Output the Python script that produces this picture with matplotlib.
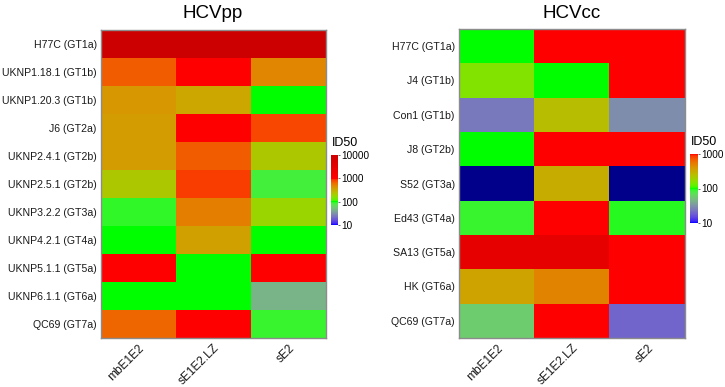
import numpy as np
import matplotlib
matplotlib.use("Agg")
import matplotlib.pyplot as plt
from matplotlib.colors import ListedColormap, LogNorm
from matplotlib.transforms import ScaledTranslation
import matplotlib.cm as cm

plt.rcParams['font.family'] = ['Liberation Sans', 'DejaVu Sans']

# ---------------- data ----------------
columns = ["mbE1E2", "sE1E2.LZ", "sE2"]

pp_rows = ["H77C (GT1a)", "UKNP1.18.1 (GT1b)", "UKNP1.20.3 (GT1b)", "J6 (GT2a)",
           "UKNP2.4.1 (GT2b)", "UKNP2.5.1 (GT2b)", "UKNP3.2.2 (GT3a)",
           "UKNP4.2.1 (GT4a)", "UKNP5.1.1 (GT5a)", "UKNP6.1.1 (GT6a)", "QC69 (GT7a)"]
pp_mbE1E2 = [10000, 700, 400, 380, 380, 220, 92, 100, 1000, 100, 650]
pp_sE1E2LZ = [10000, 1000, 330, 1000, 700, 850, 520, 360, 100, 100, 1000]
pp_sE2 = [10000, 480, 100, 800, 220, 85, 180, 100, 1000, 45, 90]

cc_rows = ["H77C (GT1a)", "J4 (GT1b)", "Con1 (GT1b)", "J8 (GT2b)", "S52 (GT3a)",
           "Ed43 (GT4a)", "SA13 (GT5a)", "HK (GT6a)", "QC69 (GT7a)"]
cc_mbE1E2 = [100, 150, 24, 100, 5, 90, 3000, 350, 58]
cc_sE1E2LZ = [1000, 100, 250, 1000, 310, 1000, 3000, 500, 1000]
cc_sE2 = [1000, 1000, 30, 1000, 5, 95, 1000, 1000, 20]

# ---------------- colour scale (Lab interpolation) ----------------
def srgb_to_lab(rgb):
    rgb = np.asarray(rgb, float)
    lin = np.where(rgb <= 0.04045, rgb / 12.92, ((rgb + 0.055) / 1.055) ** 2.4)
    M = np.array([[0.4124, 0.3576, 0.1805], [0.2126, 0.7152, 0.0722], [0.0193, 0.1192, 0.9505]])
    xyz = lin @ M.T
    xyz = xyz / np.array([0.95047, 1.0, 1.08883])
    f = np.where(xyz > 0.008856, np.cbrt(xyz), 7.787 * xyz + 16 / 116)
    L = 116 * f[..., 1] - 16
    a = 500 * (f[..., 0] - f[..., 1])
    b = 200 * (f[..., 1] - f[..., 2])
    return np.stack([L, a, b], -1)

def lab_to_srgb(lab):
    L, a, b = lab[..., 0], lab[..., 1], lab[..., 2]
    fy = (L + 16) / 116
    fx = fy + a / 500
    fz = fy - b / 200
    f = np.stack([fx, fy, fz], -1)
    xyz = np.where(f ** 3 > 0.008856, f ** 3, (f - 16 / 116) / 7.787)
    xyz = xyz * np.array([0.95047, 1.0, 1.08883])
    Minv = np.array([[3.2406, -1.5372, -0.4986], [-0.9689, 1.8758, 0.0415], [0.0557, -0.2040, 1.0570]])
    lin = xyz @ Minv.T
    lin = np.clip(lin, 0, 1)
    rgb = np.where(lin <= 0.0031308, 12.92 * lin, 1.055 * lin ** (1 / 2.4) - 0.055)
    return np.clip(rgb, 0, 1)

stops = np.array([[0, 0, 1], [0, 1, 0], [1, 0, 0], [205 / 255, 0, 0]])
stop_lab = srgb_to_lab(stops)

def make_cmap(nseg, n=256):
    pos = np.linspace(0, nseg, n)
    out = []
    for p in pos:
        i = min(int(np.floor(p)), nseg - 1)
        t = p - i
        lab = stop_lab[i] * (1 - t) + stop_lab[i + 1] * t
        out.append(lab_to_srgb(lab))
    cmap = ListedColormap(np.array(out))
    cmap.set_under('#00008B')
    cmap.set_over('#cd0000')
    return cmap

cmap_full = make_cmap(3)
cmap_cc_bar = make_cmap(2)

# ---------------- figure ----------------
fig = plt.figure(figsize=(7.25, 3.87), dpi=100)
W, H = 725, 387

def ax_px(x0, y0, x1, y1):
    return fig.add_axes([x0 / W, 1 - y1 / H, (x1 - x0) / W, (y1 - y0) / H])

def draw_heat(ax, rows, cols, data, title, title_x):
    arr = np.array(data).T
    ax.imshow(arr, cmap=cmap_full, norm=LogNorm(vmin=10, vmax=10000),
              aspect='auto', interpolation='nearest')
    ax.set_yticks(range(len(rows)))
    ax.set_yticklabels(rows, fontsize=7.6, color='#1a1a1a')
    ax.set_xticks(range(len(cols)))
    ax.set_xticklabels(cols, fontsize=8.6, rotation=45, ha='right', va='top',
                       rotation_mode='anchor', color='#1a1a1a')
    off = ScaledTranslation(5 / 100, 0, fig.dpi_scale_trans)
    for lab in ax.get_xticklabels():
        lab.set_transform(lab.get_transform() + off)
    ax.tick_params(axis='y', length=0, pad=3)
    ax.tick_params(axis='x', length=0, pad=3)
    for s in ax.spines.values():
        s.set_color('#8c8c8c')
        s.set_linewidth(1.0)
    fig.text(title_x / W, 1 - 13 / H, title, fontsize=13.5, ha='center', va='center')

ax1 = ax_px(101, 30, 326, 338)
draw_heat(ax1, pp_rows, columns, [pp_mbE1E2, pp_sE1E2LZ, pp_sE2], "HCVpp", 213)

ax2 = ax_px(459, 29, 685, 338)
draw_heat(ax2, cc_rows, columns, [cc_mbE1E2, cc_sE1E2LZ, cc_sE2], "HCVcc", 572)

def draw_cbar(x0, y0, x1, y1, cmap, vmax, ticks, labels):
    cax = ax_px(x0, y0, x1, y1)
    sm = cm.ScalarMappable(norm=LogNorm(vmin=10, vmax=vmax), cmap=cmap)
    cb = fig.colorbar(sm, cax=cax)
    cb.outline.set_visible(False)
    cb.set_ticks(ticks)
    cb.set_ticklabels(labels)
    cb.minorticks_off()
    cax.tick_params(length=1.5, width=0.6, color='#555555', pad=1)
    for t in cax.get_yticklabels():
        t.set_fontfamily(['Liberation Sans Narrow', 'Liberation Sans'])
        t.set_fontsize(7.2)
    cax.yaxis.set_minor_locator(matplotlib.ticker.NullLocator())
    fig.text((x0 + 1) / W, 1 - (y0 - 12) / H, "ID50", fontsize=9, ha='left', va='center')
    return cb

draw_cbar(331, 155, 338, 225, cmap_full, 10000, [10, 100, 1000, 10000],
          ["10", "100", "1000", "10000"])
draw_cbar(690, 154, 698, 223, cmap_cc_bar, 1000, [10, 100, 1000],
          ["10", "100", "1000"])

fig.savefig("out.png", dpi=100)
